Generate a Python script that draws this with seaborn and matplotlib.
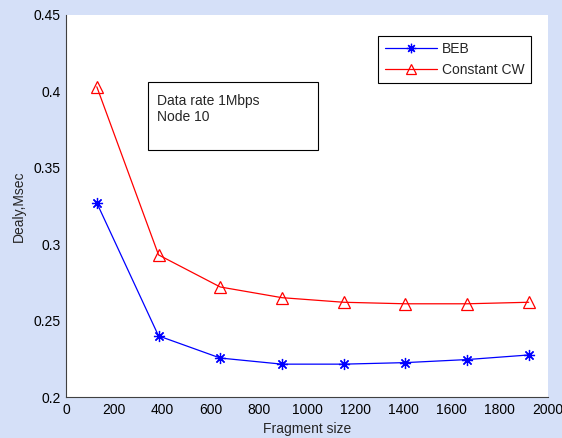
import numpy as np
import pandas as pd
import matplotlib
matplotlib.use("Agg")
import matplotlib.pyplot as plt
import seaborn as sns
from matplotlib.patches import Rectangle

# fragment sizes and delay values
frag_size = [128, 384, 640, 896, 1152, 1408, 1664, 1920]
beb_delay = [0.327, 0.240, 0.2255, 0.2215, 0.2215, 0.2225, 0.2245, 0.2275]
cw_delay = [0.403, 0.293, 0.272, 0.265, 0.262, 0.261, 0.261, 0.262]
xticks = [0, 200, 400, 600, 800, 1000, 1200, 1400, 1600, 1800, 2000]
yticks = [0.2, 0.25, 0.3, 0.35, 0.4, 0.45]

df = pd.DataFrame({"frag": frag_size, "BEB": beb_delay, "Constant CW": cw_delay})

sns.set_style("white")
plt.rcParams["font.family"] = ["Liberation Sans", "DejaVu Sans"]

fig = plt.figure(figsize=(5.62, 4.38), dpi=100, facecolor="#d5e0f8")
ax = fig.add_axes([0.1174, 0.0936, 0.8577, 0.8722])
ax.set_facecolor("white")

sns.lineplot(data=df, x="frag", y="BEB", ax=ax, color="blue", lw=0.9,
             marker=(8, 2, 0), ms=8, mec="blue", mfc="blue", mew=0.9, label="BEB")
sns.lineplot(data=df, x="frag", y="Constant CW", ax=ax, color="red", lw=0.9,
             marker="^", ms=9, mec="red", mfc="none", mew=0.9, label="Constant CW")

ax.set_xlim(0, 2000)
ax.set_ylim(0.2, 0.45)
ax.set_xticks(xticks)
ax.set_yticks(yticks)
ax.set_yticklabels([f"{v:g}" for v in yticks])
ax.tick_params(direction="in", length=4, width=0.8, labelsize=10, colors="black", pad=4)
for s in ["top", "right"]:
    ax.spines[s].set_visible(False)
for s in ["left", "bottom"]:
    ax.spines[s].set_color("#404040")
    ax.spines[s].set_linewidth(0.8)

ax.set_xlabel("Fragment size", fontsize=10, labelpad=4)
ax.set_ylabel("Dealy,Msec", fontsize=10, labelpad=5)

leg = ax.legend(loc="upper right", bbox_to_anchor=(0.965, 0.945), fontsize=10,
                frameon=True, fancybox=False, edgecolor="black", framealpha=1,
                handlelength=3.8, borderpad=0.45, labelspacing=0.5, handletextpad=0.35,
                borderaxespad=0, markerscale=0.85)
leg.get_frame().set_linewidth(0.8)

ax.add_patch(Rectangle((0.170, 0.6466), 0.353, 0.178, transform=ax.transAxes,
                       fill=False, edgecolor="black", lw=0.8))
ax.text(0.189, 0.775, "Data rate 1Mbps", transform=ax.transAxes, fontsize=10, va="center")
ax.text(0.189, 0.733, "Node 10", transform=ax.transAxes, fontsize=10, va="center")

fig.savefig("out.png", dpi=100, facecolor=fig.get_facecolor())
